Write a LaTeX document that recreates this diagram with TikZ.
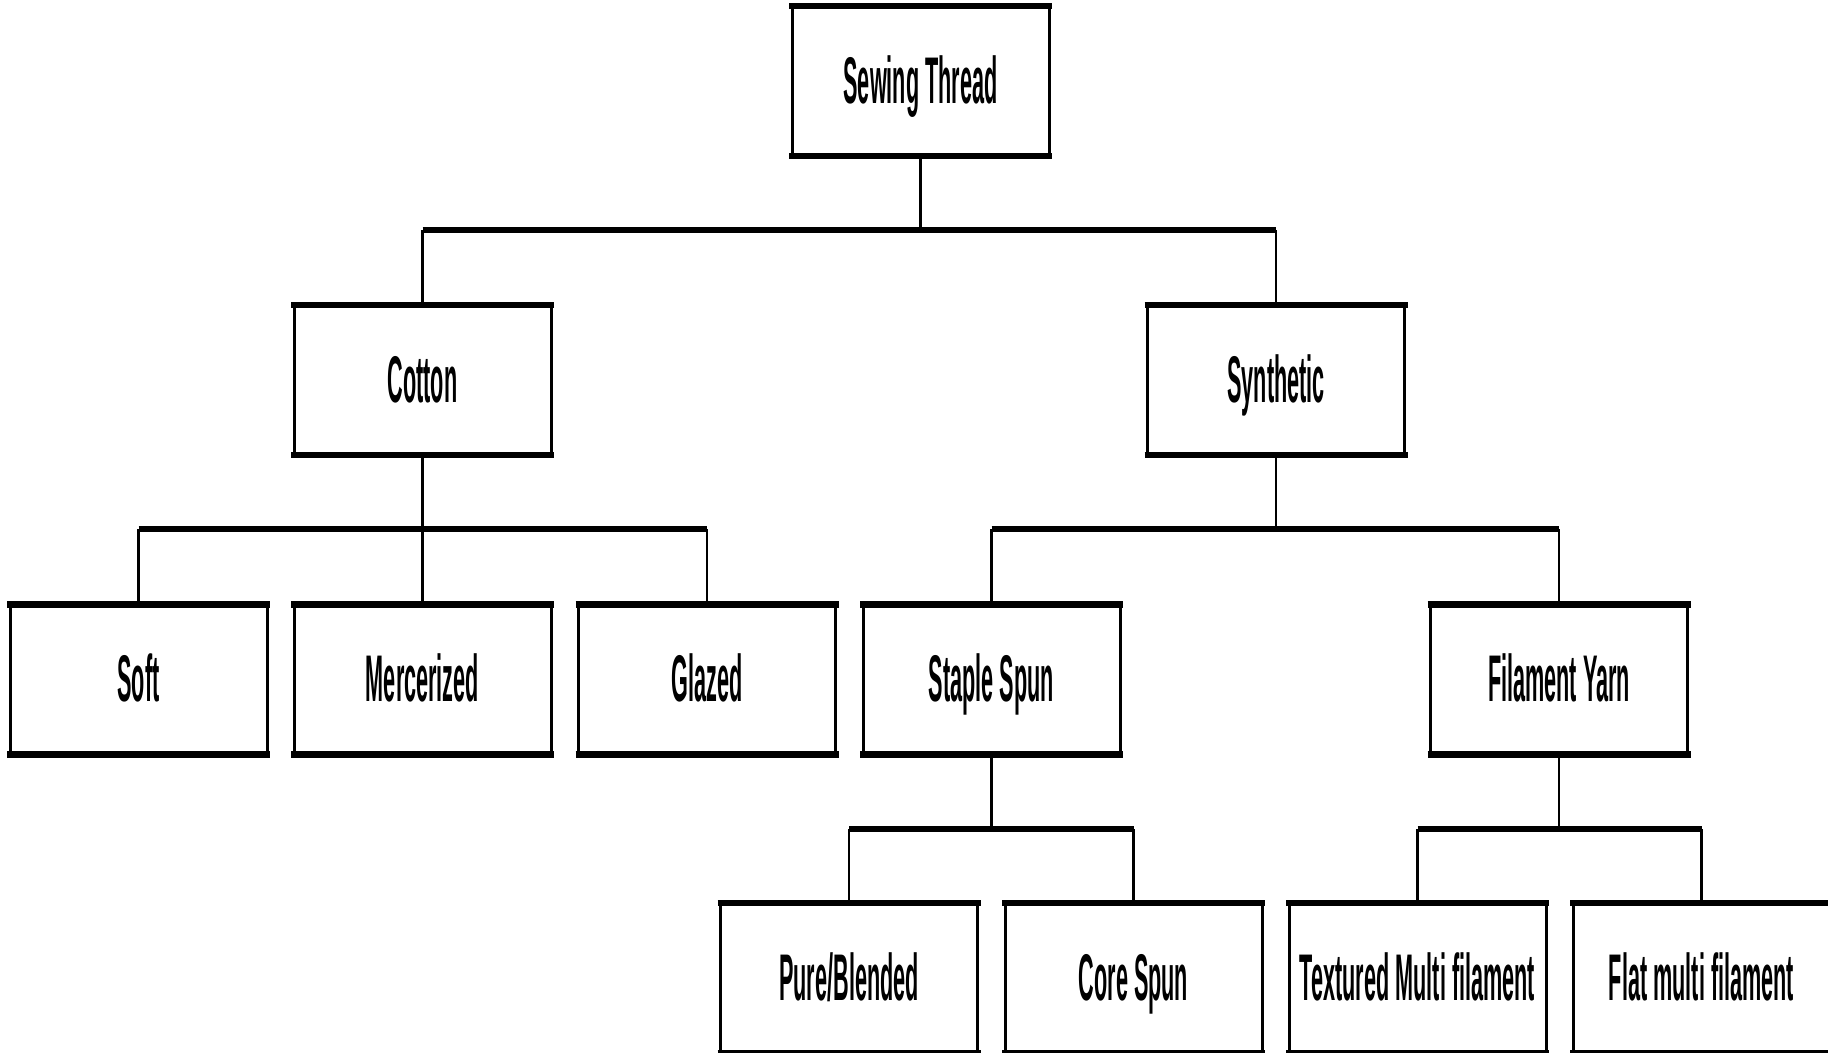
\documentclass[tikz,border=0pt]{standalone}
\usepackage{fontspec}
\usepackage{graphicx}
\setmainfont{Liberation Sans}
\newcommand{\lbl}[1]{\smash{\raisebox{-22pt}{\scalebox{0.328}[1]{\bfseries #1}}}}
\begin{document}
\begin{tikzpicture}[x=1pt,y=-1pt,
  box/.style={rectangle, draw=black, line width=3pt, fill=white,
    minimum width=257pt, minimum height=147pt, inner sep=0pt,
    font=\fontsize{66}{66}\selectfont},
  edgethick/.style={line width=6.5pt},
  bar/.style={line width=6pt},
  stem/.style={line width=2.8pt}]
\useasboundingbox (0,0) rectangle (1828,1052);
\fill[white] (0,0) rectangle (1828,1052);
% level 1
\node[box] (st) at (920.5,81) {\lbl{Sewing Thread}};
% level 2
\node[box] (cot) at (422.5,380) {\lbl{Cotton}};
\node[box] (syn) at (1276,380) {\lbl{Synthetic}};
% level 3
\node[box] (soft) at (138.5,679.5) {\lbl{Soft}};
\node[box] (mer) at (422.5,679.5) {\lbl{Mercerized}};
\node[box] (gla) at (707,679.5) {\lbl{Glazed}};
\node[box] (sta) at (991.5,679.5) {\lbl{Staple Spun}};
\node[box] (fil) at (1559,679.5) {\lbl{Filament Yarn}};
% level 4
\node[box] (pur) at (849,978) {\lbl{Pure/Blended}};
\node[box] (cor) at (1133.5,978) {\lbl{Core Spun}};
\node[box] (tex) at (1417.5,978) {\lbl{Textured Multi filament}};
\node[box] (fla) at (1701.5,978) {\lbl{Flat multi filament}};
% thick top/bottom edges
\foreach \n in {st,cot,syn,soft,mer,gla,sta,fil,pur,cor,tex,fla}{
  \draw[edgethick] ([xshift=-1.5pt]\n.north west) -- ([xshift=1.5pt]\n.north east);
  \draw[edgethick] ([xshift=-1.5pt]\n.south west) -- ([xshift=1.5pt]\n.south east);
}
% connectors
\coordinate (j1) at (st.south |- 0,230);
\draw[stem] (st.south) -- (j1);
\draw[bar] (cot.north |- j1) -- (syn.north |- j1);
\draw[stem] (cot.north |- j1) -- (cot.north);
\draw[stem] (syn.north |- j1) -- (syn.north);
\coordinate (j2) at (cot.south |- 0,529);
\draw[stem] (cot.south) -- (j2);
\draw[bar] (soft.north |- j2) -- (gla.north |- j2);
\draw[stem] (soft.north |- j2) -- (soft.north);
\draw[stem] (mer.north |- j2) -- (mer.north);
\draw[stem] (gla.north |- j2) -- (gla.north);
\coordinate (j3) at (syn.south |- 0,529);
\draw[stem] (syn.south) -- (j3);
\draw[bar] (sta.north |- j3) -- (fil.north |- j3);
\draw[stem] (sta.north |- j3) -- (sta.north);
\draw[stem] (fil.north |- j3) -- (fil.north);
\coordinate (j4) at (sta.south |- 0,829);
\draw[stem] (sta.south) -- (j4);
\draw[bar] (pur.north |- j4) -- (cor.north |- j4);
\draw[stem] (pur.north |- j4) -- (pur.north);
\draw[stem] (cor.north |- j4) -- (cor.north);
\coordinate (j5) at (fil.south |- 0,829);
\draw[stem] (fil.south) -- (j5);
\draw[bar] (tex.north |- j5) -- (fla.north |- j5);
\draw[stem] (tex.north |- j5) -- (tex.north);
\draw[stem] (fla.north |- j5) -- (fla.north);
\end{tikzpicture}
\end{document}
